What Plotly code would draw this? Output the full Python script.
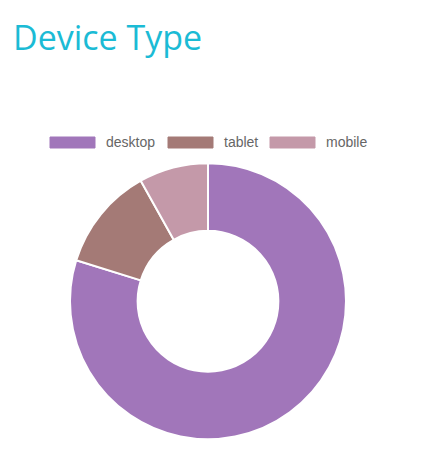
import plotly.graph_objects as go

W, H = 439, 475
OFF = 8  # page body margin in the browser shifts everything by 8px

# data
devices = ["desktop", "tablet", "mobile"]
shares = [79.8, 12.1, 8.1]
colors = ["#A176BA", "#A47A76", "#C499A9"]


def px_x(x):
    return (x - OFF) / W


def px_y(y):
    return 1 - (y - OFF) / H


fig = go.Figure()

fig.add_trace(go.Pie(
    labels=devices,
    values=shares,
    hole=0.51,
    sort=False,
    direction="clockwise",
    rotation=0,
    marker=dict(colors=colors, line=dict(color="white", width=2)),
    textinfo="none",
    hoverinfo="label+value",
    showlegend=False,
    domain=dict(x=[px_x(70), px_x(346)], y=[px_y(439.5), px_y(163)]),
))

# chart.js style legend: wide boxes + labels
box_left = [50, 168, 270]
shapes = []
annotations = []
for i, name in enumerate(devices):
    x0 = box_left[i]
    shapes.append(dict(
        type="rect", xref="paper", yref="paper",
        x0=px_x(x0), x1=px_x(x0 + 45), y0=px_y(148), y1=px_y(137),
        fillcolor=colors[i], line=dict(color=colors[i], width=1),
    ))
    annotations.append(dict(
        text=name, xref="paper", yref="paper",
        x=px_x(x0 + 54), y=px_y(142.5), xanchor="left", yanchor="middle",
        showarrow=False, font=dict(family="Liberation Sans, Arial", size=14, color="#666666"),
    ))

fig.update_layout(
    width=W, height=H,
    margin=dict(l=0, r=0, t=0, b=0),
    paper_bgcolor="white",
    plot_bgcolor="white",
    title=dict(
        text="Device Type",
        x=px_x(13), xanchor="left",
        y=px_y(38), yanchor="middle",
        font=dict(family="Open Sans", size=34, color="#1BBBD5"),
    ),
    shapes=shapes,
    annotations=annotations,
)

fig.write_html("out.html")
